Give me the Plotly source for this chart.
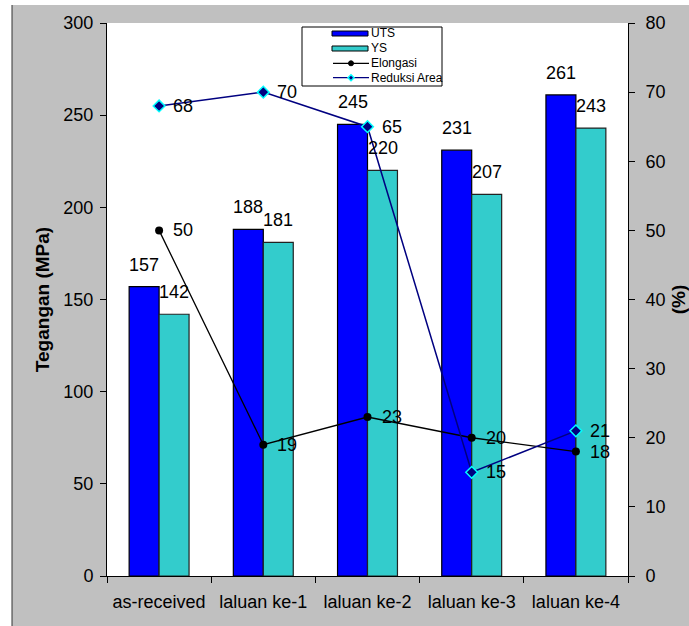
import plotly.graph_objects as go

# ---- data ----
categories = ["as-received", "laluan ke-1", "laluan ke-2", "laluan ke-3", "laluan ke-4"]
uts = [157, 188, 245, 231, 261]
ys = [142, 181, 220, 207, 243]
elongasi = [50, 19, 23, 20, 18]
reduksi = [68, 70, 65, 15, 21]

FONT = "Liberation Sans, Arial, sans-serif"
BLUE = "#0000FF"
TEAL = "#33CCCC"
NAVY = "#000080"
CYAN = "#00FFFF"
GREY = "#C0C0C0"

W, H = 689, 626
L, R, T, B = 107, 61, 23, 50
PW, PH = W - L - R, H - T - B


def px(x):
    return (x - L) / PW


def py(y):
    return (H - B - y) / PH


fig = go.Figure()
fig.add_trace(go.Bar(x=categories, y=uts, name="UTS", marker=dict(color=BLUE, line=dict(color="black", width=1.2)),
                     showlegend=False))
fig.add_trace(go.Bar(x=categories, y=ys, name="YS", marker=dict(color=TEAL, line=dict(color="#222222", width=1.2)),
                     showlegend=False))
fig.add_trace(go.Scatter(x=categories, y=elongasi, name="Elongasi", yaxis="y2", mode="lines+markers",
                         line=dict(color="black", width=1.3), marker=dict(symbol="circle", size=8, color="black"),
                         showlegend=False))
fig.add_trace(go.Scatter(x=categories, y=reduksi, name="Reduksi Area", yaxis="y2", mode="lines+markers",
                         line=dict(color=NAVY, width=1.5),
                         marker=dict(symbol="diamond", size=9, color=NAVY, line=dict(color=CYAN, width=1.5)),
                         showlegend=False))

annotations = []
for c, v in zip(categories, uts):
    annotations.append(dict(x=c, y=v, xref="x", yref="y", text=str(v), showarrow=False, xshift=-15, yshift=22,
                            font=dict(size=18, color="black", family=FONT)))
for c, v in zip(categories, ys):
    annotations.append(dict(x=c, y=v, xref="x", yref="y", text=str(v), showarrow=False, xshift=15, yshift=22,
                            font=dict(size=18, color="black", family=FONT)))
for series in (elongasi, reduksi):
    for c, v in zip(categories, series):
        annotations.append(dict(x=c, y=v, xref="x", yref="y2", text=str(v), showarrow=False, xanchor="left",
                                xshift=12, yanchor="middle", font=dict(size=18, color="black", family=FONT)))

# custom legend
leg_items = [("UTS", 33.3), ("YS", 48.3), ("Elongasi", 63.3), ("Reduksi Area", 77.7)]
for name, yy in leg_items:
    annotations.append(dict(x=px(369), y=py(yy), xref="paper", yref="paper", text=name, showarrow=False,
                            xanchor="left", yanchor="middle", font=dict(size=12, color="black", family=FONT)))

shapes = [
    # page margins (white) and left border
    dict(type="rect", xref="paper", yref="paper", x0=px(0), x1=px(12), y0=py(H), y1=py(0), fillcolor="white",
         line=dict(width=0), layer="above"),
    dict(type="rect", xref="paper", yref="paper", x0=px(0), x1=px(W), y0=py(5), y1=py(0), fillcolor="white",
         line=dict(width=0), layer="above"),
    dict(type="line", xref="paper", yref="paper", x0=px(12), x1=px(12), y0=py(5), y1=py(H),
         line=dict(color="#333333", width=1), layer="above"),
    # legend box
    dict(type="rect", xref="paper", yref="paper", x0=px(302), x1=px(442), y0=py(86), y1=py(27), fillcolor="white",
         line=dict(color="black", width=1), layer="above"),
    dict(type="rect", xref="paper", yref="paper", x0=px(332), x1=px(368), y0=py(36), y1=py(31), fillcolor=BLUE,
         line=dict(color="black", width=1), layer="above"),
    dict(type="rect", xref="paper", yref="paper", x0=px(332), x1=px(368), y0=py(51), y1=py(46), fillcolor=TEAL,
         line=dict(color="black", width=1), layer="above"),
    dict(type="line", xref="paper", yref="paper", x0=px(333), x1=px(369), y0=py(63.3), y1=py(63.3),
         line=dict(color="black", width=1.3), layer="above"),
    dict(type="circle", xref="paper", yref="paper", x0=px(348.5), x1=px(353.5), y0=py(65.8), y1=py(60.8),
         fillcolor="black", line=dict(color="black", width=1), layer="above"),
    dict(type="line", xref="paper", yref="paper", x0=px(333), x1=px(369), y0=py(77.7), y1=py(77.7),
         line=dict(color=NAVY, width=1.3), layer="above"),
    dict(type="path", xref="paper", yref="paper",
         path="M {a},{b} L {c},{d} L {a},{e} L {f},{d} Z".format(a=px(351), b=py(74.7), c=px(354), d=py(77.7),
                                                                 e=py(80.7), f=px(348)),
         fillcolor=NAVY, line=dict(color=CYAN, width=1.5), layer="above"),
]

tickfont = dict(size=18, color="black", family=FONT)
fig.update_layout(
    width=W, height=H,
    margin=dict(l=L, r=R, t=T, b=B, pad=0, autoexpand=False),
    paper_bgcolor=GREY, plot_bgcolor="white",
    barmode="group", bargap=0.425, bargroupgap=0,
    font=dict(family=FONT, color="black"),
    showlegend=False,
    xaxis=dict(type="category", tickson="boundaries", ticks="outside", ticklen=6, tickcolor="black",
               showline=True, linecolor="black", linewidth=1, showgrid=False, tickfont=tickfont,
               ticklabelstandoff=9, automargin=False),
    yaxis=dict(range=[0, 300], dtick=50, ticks="outside", ticklen=6, tickcolor="black", showline=True,
               linecolor="black", linewidth=1, showgrid=False, zeroline=False, tickfont=tickfont,
               ticklabelstandoff=3, automargin=False,
               title=dict(text="<b>Tegangan (MPa)</b>", font=dict(size=19, color="black", family=FONT), standoff=8)),
    yaxis2=dict(range=[0, 80], dtick=10, overlaying="y", side="right", ticks="outside", ticklen=6,
                tickcolor="black", showline=True, linecolor="black", linewidth=1, showgrid=False, zeroline=False,
                tickfont=tickfont, ticklabelstandoff=7, automargin=False,
                title=dict(text="<b>(%)</b>", font=dict(size=19, color="black", family=FONT), standoff=9)),
    annotations=annotations,
    shapes=shapes,
)

fig.write_html("out.html")
